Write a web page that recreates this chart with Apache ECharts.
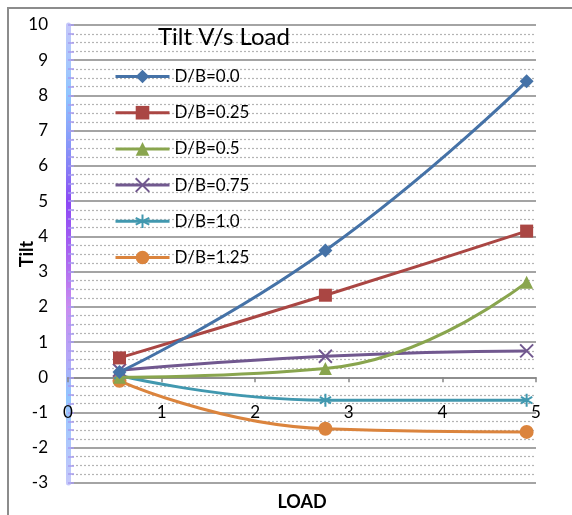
<!DOCTYPE html>
<html>
<head>
<meta charset="utf-8">
<script src="https://cdn.jsdelivr.net/npm/echarts@6/dist/echarts.min.js"></script>
<style>html,body{margin:0;padding:0;background:#fff;}#c{width:572px;height:515px;}</style>
</head>
<body>
<div id="c"></div>
<script>
const seriesNames = ['D/B=0.0', 'D/B=0.25', 'D/B=0.5', 'D/B=0.75', 'D/B=1.0', 'D/B=1.25'];
const loadValues = [0.55, 2.75, 4.9];
const tiltDB00  = [0.15, 3.6, 8.4];
const tiltDB025 = [0.55, 2.33, 4.15];
const tiltDB05  = [0.0, 0.25, 2.7];
const tiltDB075 = [0.2, 0.6, 0.75];
const tiltDB10  = [0.05, -0.65, -0.65];
const tiltDB125 = [-0.1, -1.46, -1.55];
const yTicks = [-3, 10];

const allTilt = [tiltDB00, tiltDB025, tiltDB05, tiltDB075, tiltDB10, tiltDB125];
const colors = ['#4572A7', '#AA4643', '#89A54E', '#71588F', '#4198AF', '#DB843D'];
const symbols = ['diamond', 'rect', 'triangle',
  'path://M0,0L10,10M10,0L0,10',
  'path://M5,0L5,10M0.7,2.5L9.3,7.5M9.3,2.5L0.7,7.5',
  'circle'];
const sizes = [14, 13, 13, 13, 13, 14];
const FONT = 'Lato';

function itemStyleFor(i) {
  return symbols[i].indexOf('path://') === 0
    ? { color: 'rgba(0,0,0,0)', borderColor: colors[i], borderWidth: 2 }
    : { color: colors[i] };
}

const series = allTilt.map((vals, i) => ({
  name: seriesNames[i],
  type: 'line',
  smooth: true,
  data: loadValues.map((x, j) => [x, vals[j]]),
  symbol: symbols[i],
  symbolSize: sizes[i],
  symbolKeepAspect: true,
  showAllSymbol: true,
  lineStyle: { color: colors[i], width: 3 },
  itemStyle: itemStyleFor(i),
  emphasis: { disabled: true },
  z: 3 + (5 - i)
}));

const chart = echarts.init(document.getElementById('c'));
chart.setOption({
  animation: false,
  backgroundColor: '#fff',
  textStyle: { fontFamily: FONT },
  title: {
    text: 'Tilt V/s Load',
    left: 158, top: 25, padding: 0,
    textStyle: { fontFamily: FONT, fontSize: 24, fontWeight: 'normal', color: '#000' }
  },
  legend: {
    orient: 'vertical',
    left: 114, top: 68, padding: 0,
    itemWidth: 54, itemHeight: 17, itemGap: 19.2,
    textStyle: { fontFamily: FONT, fontSize: 17, color: '#000', lineHeight: 17 },
    data: seriesNames.map((n, i) => ({
      name: n,
      itemStyle: itemStyleFor(i),
      lineStyle: { color: colors[i], width: 3 }
    }))
  },
  graphic: [{
    type: 'rect', shape: { x: 8, y: 8, width: 700, height: 700 },
    style: { fill: 'none', stroke: '#8c8c8c', lineWidth: 2 }, silent: true, z: -1
  }],
  grid: { left: 68, right: 36, top: 25, bottom: 32, containLabel: false, outerBoundsMode: 'none' },
  xAxis: {
    type: 'value', min: 0, max: 5, interval: 1,
    position: 'bottom',
    offset: -105.7,
    name: 'LOAD', nameLocation: 'middle', nameGap: 116, nameMoveOverlap: false,
    nameTextStyle: { fontFamily: FONT, fontSize: 18, fontWeight: 'bold', color: '#000' },
    axisLine: { onZero: false, lineStyle: { color: '#868686', width: 1.5 } },
    axisTick: { show: true, length: 5, lineStyle: { color: '#868686', width: 1.5 } },
    axisLabel: { fontFamily: FONT, fontSize: 17, color: '#000', margin: 27 },
    splitLine: { show: false }
  },
  yAxis: {
    type: 'value', min: yTicks[0], max: yTicks[1], interval: 1,
    name: 'Tilt', nameLocation: 'middle', nameGap: 32, nameRotate: 90, nameMoveOverlap: false,
    nameTextStyle: { fontFamily: FONT, fontSize: 18, fontWeight: 'bold', color: '#000' },
    axisLine: {
      show: true, onZero: false,
      lineStyle: {
        width: 5,
        color: {
          type: 'linear', x: 0, y: 25, x2: 0, y2: 483, global: true,
          colorStops: [
            { offset: 0, color: '#c4c8fa' },
            { offset: 0.154, color: '#8fc6ff' },
            { offset: 0.308, color: '#8682f6' },
            { offset: 0.385, color: '#8c48f5' },
            { offset: 0.5, color: '#a964f0' },
            { offset: 0.615, color: '#c98cf0' },
            { offset: 0.73, color: '#b2a8f8' },
            { offset: 0.81, color: '#92c6ff' },
            { offset: 1, color: '#c4c8fa' }
          ]
        }
      }
    },
    axisTick: { show: true, inside: true, length: 6, lineStyle: { color: '#a89cf0', width: 1.5 } },
    minorTick: { show: true, splitNumber: 4, length: 6, lineStyle: { color: '#a89cf0', width: 1.5 } },
    axisLabel: { fontFamily: FONT, fontSize: 17, color: '#000', margin: 20 },
    splitLine: { show: true, lineStyle: { color: '#868686', width: 1.5 } },
    minorSplitLine: { show: true, lineStyle: { color: '#b4b4b4', width: 1.2, type: [2, 2] } }
  },
  series: series
});
</script>
</body>
</html>
